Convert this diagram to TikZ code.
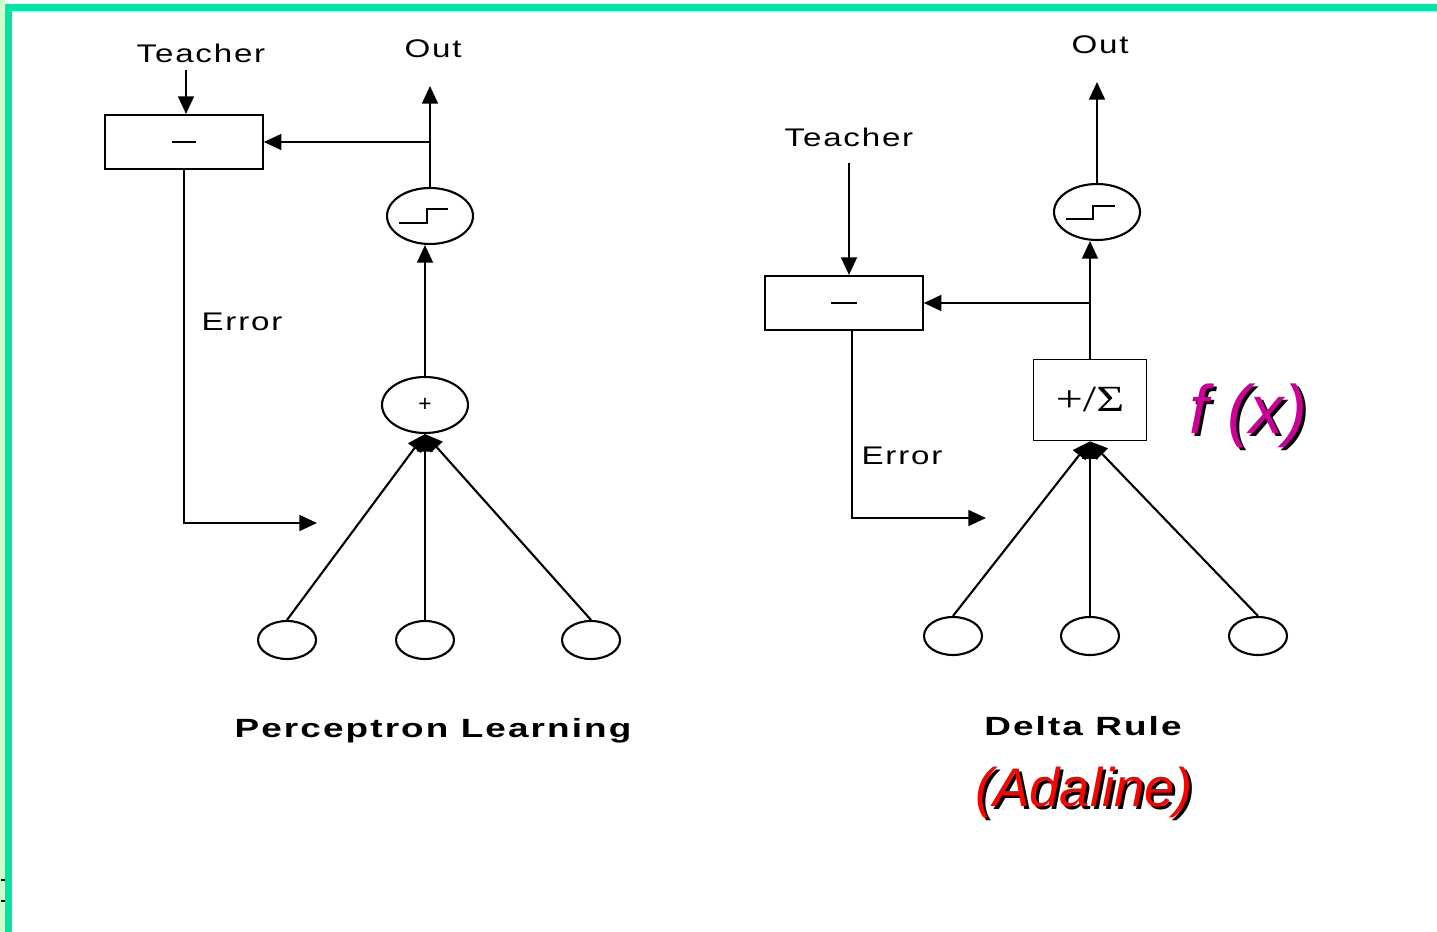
\documentclass[tikz,border=0pt]{standalone}
\usepackage{fontspec}
\setmainfont{Liberation Sans}
\newfontfamily\labelfont[FakeStretch=1.3, LetterSpace=7]{Liberation Sans}
\newfontfamily\namefont[FakeStretch=1.4, LetterSpace=8]{Liberation Sans Bold}
\newfontfamily\symbfont[FakeStretch=1.3]{Liberation Serif}
\usetikzlibrary{arrows.meta,shapes.geometric}
\definecolor{slidegreen}{RGB}{0,230,168}
\definecolor{slidepale}{RGB}{204,255,204}
\definecolor{fxpink}{RGB}{204,0,153}

\begin{document}
\begin{tikzpicture}[x=0.02cm, y=-0.02cm, line width=1.2pt,
  flow/.style={-{Triangle[length=10pt,width=9pt]}},
  diffbox/.style={draw, minimum width=3.15cm, minimum height=1.08cm, inner sep=0pt},
  unit/.style={draw, ellipse, minimum width=1.72cm, minimum height=1.12cm, inner sep=0pt},
  inputnode/.style={draw, ellipse, minimum width=1.16cm, minimum height=0.76cm, inner sep=0pt},
  lbl/.style={font=\labelfont\fontsize{14.5}{16}\selectfont, inner sep=0pt},
  rulename/.style={font=\namefont\fontsize{15}{17}\selectfont, inner sep=0pt},
  bigitalic/.style={font=\itshape\fontsize{#1}{#1}\selectfont, inner sep=0pt}
]

\useasboundingbox (0,0) rectangle (1437,932);

% slide frame
\fill[slidepale] (0,0) rectangle (5,932);
\fill[slidegreen] (5,4) rectangle (1437,11);
\fill[slidegreen] (5,4) rectangle (12,932);
\draw[line width=0.9pt] (1,880) -- (5,880);
\draw[line width=0.9pt] (1,901) -- (5,901);

% perceptron learning
\node[lbl] (teachL) at (201,53) {Teacher};
\node[lbl] (outL) at (433,49) {Out};
\node[diffbox] (diffL) at (184,142) {\rule{14pt}{1.2pt}};
\node[unit] (stepL) at (430,216) {};
\node[unit] (sumL) at (425,405) {\fontsize{13}{14}\selectfont +};
\node[inputnode] (inL1) at (287,640) {};
\node[inputnode] (inL2) at (425,640) {};
\node[inputnode] (inL3) at (591,640) {};
\node[lbl] (errL) at (242,322) {Error};
\node[rulename] (nameL) at (433,731) {Perceptron Learning};

\coordinate (teachLtop) at (186,70);
\coordinate (outLtop) at (432,86);
\coordinate (errLend) at (317,523);

\draw (stepL.center) ++(-31,7) -- ++(28,0) -- ++(0,-14) -- ++(21,0);

\draw[flow] (teachLtop) -- (teachLtop |- diffL.north);
\draw[flow] (stepL.north) -- (stepL.north |- outLtop);
\draw[flow] (stepL.north |- diffL.east) -- (diffL.east);
\draw[flow] (sumL.north) -- (sumL.north |- stepL.south);
\draw[flow] (diffL.south) |- (errLend);
\draw[flow] (inL1.north) -- (sumL.south);
\draw[flow] (inL2.north) -- (sumL.south);
\draw[flow] (inL3.north) -- (sumL.south);

% delta rule
\node[lbl] (teachR) at (849,137) {Teacher};
\node[lbl] (outR) at (1100,45) {Out};
\node[diffbox] (diffR) at (844,303) {\rule{15pt}{1.2pt}};
\node[unit] (stepR) at (1097,212) {};
\node[draw, line width=1pt, minimum width=2.26cm, minimum height=1.62cm, inner sep=0pt] (sumR) at (1090,400)
  {\symbfont\fontsize{21}{24}\selectfont +/Σ};
\node[inputnode] (inR1) at (953,636) {};
\node[inputnode] (inR2) at (1090,636) {};
\node[inputnode] (inR3) at (1258,636) {};
\node[lbl] (errR) at (902,456) {Error};
\node[rulename] (nameR) at (1083,726) {Delta Rule};

\coordinate (teachRtop) at (849,163);
\coordinate (outRtop) at (1097,82);
\coordinate (errRend) at (986,518);

\draw (stepR.center) ++(-31,7) -- ++(27,0) -- ++(0,-13) -- ++(22,0);

\draw[flow] (teachRtop) -- (teachRtop |- diffR.north);
\draw[flow] (stepR.north) -- (outRtop);
\draw[flow] (sumR.north |- diffR.east) -- (diffR.east);
\draw[flow] (sumR.north) -- (sumR.north |- stepR.south);
\draw[flow] ([xshift=0.16cm]diffR.south) |- (errRend);
\draw[flow] (inR1.north) -- (sumR.south);
\draw[flow] (inR2.north) -- (sumR.south);
\draw[flow] (inR3.north) -- (sumR.south);

% shadowed captions
\node[bigitalic=39, text=black] (fxshade) at (1251,419) {f (x)};
\node[bigitalic=39, text=fxpink] (fx) at (1248,416) {f (x)};
\node[bigitalic=31, text=black] (adashade) at (1087,795) {(Adaline)};
\node[bigitalic=31, text=red] (ada) at (1084,792) {(Adaline)};

\end{tikzpicture}
\end{document}
